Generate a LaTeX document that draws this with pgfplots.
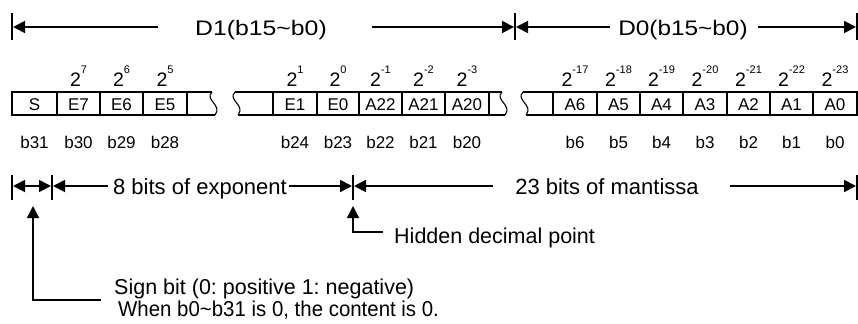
\documentclass[border=0pt]{standalone}
\usepackage{pgfplots}
\pgfplotsset{compat=1.18}
\usepackage{fontspec}
\setmainfont{Liberation Sans}
\usetikzlibrary{arrows.meta}
\frenchspacing
\newcommand\fs[1]{\fontsize{#1bp}{#1bp}\selectfont}
\newcommand\pw[1]{2\raisebox{12.5bp}{\fs{11}#1}}
\newcommand\sq[1]{\draw[line width=1.1bp,black] (axis cs:#1,92) .. controls (axis cs:#1-8,100) and (axis cs:#1+11,105) .. (axis cs:#1+3,115);}
\newcommand\cell[3]{%
  \node[anchor=base,inner sep=0] at (axis cs:#1,110) {\fs{17}#2};
  \node[anchor=base,inner sep=0] at (axis cs:#1,148) {\fs{17}#3};}
\newcommand\pow[2]{\node[anchor=base,inner sep=0] at (axis cs:#1,86) {\fs{19.5}\pw{#2}};}
\begin{document}
\begin{tikzpicture}[>={Triangle[length=12bp,width=12bp]}]
\begin{axis}[width=858bp,height=324bp,scale only axis,
  xmin=0,xmax=858,ymin=0,ymax=324,y dir=reverse,hide axis,clip=false]
\coordinate (TL) at (axis cs:0,0);
\coordinate (BR) at (axis cs:858,324);
% ---- top row
\addplot[line width=1.8bp,black] coordinates {(12,13) (12,40)};
\addplot[line width=1.8bp,black] coordinates {(515,13) (515,40)};
\addplot[line width=1.8bp,black] coordinates {(857,13) (857,40)};
\addplot[line width=1.8bp,black,->] coordinates {(158,27) (13,27)};
\addplot[line width=1.8bp,black,->] coordinates {(372,27) (514,27)};
\addplot[line width=1.8bp,black,->] coordinates {(610,27) (516,27)};
\addplot[line width=1.8bp,black,->] coordinates {(758,27) (856,27)};
\node[anchor=base] at (axis cs:261,35) {\fs{21}\scalebox{1.18}[1]{D1(b15\char`\~b0)}};
\node[anchor=base] at (axis cs:683,35) {\fs{21}\scalebox{1.16}[1]{D0(b15\char`\~b0)}};
% ---- boxes
\addplot[line width=1.1bp,black] coordinates {(212,92) (12,92) (12,115) (215,115)};
\addplot[line width=1.1bp,black] coordinates {(235,92) (502,92)};
\addplot[line width=1.1bp,black] coordinates {(238,115) (505,115)};
\addplot[line width=1.1bp,black] coordinates {(523,92) (857,92) (857,115) (526,115)};
\addplot[line width=1.1bp,black] coordinates {(57,92) (57,115)};
\addplot[line width=1.1bp,black] coordinates {(100,92) (100,115)};
\addplot[line width=1.1bp,black] coordinates {(143,92) (143,115)};
\addplot[line width=1.1bp,black] coordinates {(187,92) (187,115)};
\addplot[line width=1.1bp,black] coordinates {(273,92) (273,115)};
\addplot[line width=1.1bp,black] coordinates {(317,92) (317,115)};
\addplot[line width=1.1bp,black] coordinates {(359,92) (359,115)};
\addplot[line width=1.1bp,black] coordinates {(402,92) (402,115)};
\addplot[line width=1.1bp,black] coordinates {(445,92) (445,115)};
\addplot[line width=1.1bp,black] coordinates {(489,92) (489,115)};
\addplot[line width=1.1bp,black] coordinates {(553,92) (553,115)};
\addplot[line width=1.1bp,black] coordinates {(597,92) (597,115)};
\addplot[line width=1.1bp,black] coordinates {(640,92) (640,115)};
\addplot[line width=1.1bp,black] coordinates {(683,92) (683,115)};
\addplot[line width=1.1bp,black] coordinates {(727,92) (727,115)};
\addplot[line width=1.1bp,black] coordinates {(770,92) (770,115)};
\addplot[line width=1.1bp,black] coordinates {(813,92) (813,115)};
\sq{212}\sq{235}\sq{502}\sq{523}
% ---- cell labels
\cell{34.5}{S}{b31}\cell{78.5}{E7}{b30}\cell{121.5}{E6}{b29}\cell{165}{E5}{b28}
\cell{295}{E1}{b24}\cell{338}{E0}{b23}\cell{380.5}{A22}{b22}\cell{423.5}{A21}{b21}\cell{467}{A20}{b20}
\cell{575}{A6}{b6}\cell{618.5}{A5}{b5}\cell{661.5}{A4}{b4}\cell{705}{A3}{b3}\cell{748.5}{A2}{b2}\cell{791.5}{A1}{b1}\cell{835}{A0}{b0}
\pow{78.5}{7}\pow{121.5}{6}\pow{165}{5}
\pow{295}{1}\pow{338}{0}\pow{380.5}{-1}\pow{423.5}{-2}\pow{467}{-3}
\pow{575}{-17}\pow{618.5}{-18}\pow{661.5}{-19}\pow{705}{-20}\pow{748.5}{-21}\pow{791.5}{-22}\pow{835}{-23}
% ---- bottom row
\addplot[line width=1.8bp,black] coordinates {(12,175) (12,200)};
\addplot[line width=1.8bp,black] coordinates {(52,175) (52,200)};
\addplot[line width=1.8bp,black] coordinates {(353,175) (353,200)};
\addplot[line width=1.8bp,black] coordinates {(857,175) (857,200)};
\addplot[line width=1.8bp,black,<->] coordinates {(13,186) (51,186)};
\addplot[line width=1.8bp,black,->] coordinates {(108,186) (53,186)};
\addplot[line width=1.8bp,black,->] coordinates {(289,186) (352,186)};
\addplot[line width=1.8bp,black,->] coordinates {(493,186) (354,186)};
\addplot[line width=1.8bp,black,->] coordinates {(730,186) (856,186)};
\node[anchor=base,inner sep=0] at (axis cs:200,194) {\fs{22}8 bits of exponent};
\node[anchor=base,inner sep=0] at (axis cs:607,194) {\fs{22}23 bits of mantissa};
% ---- pointers
\addplot[line width=1.8bp,black,->] coordinates {(101,300) (33,300) (33,206)};
\addplot[line width=1.8bp,black,->] coordinates {(383,232) (353,232) (353,206)};
\node[anchor=base west,inner sep=0] at (axis cs:394,243) {\fs{21.5}Hidden decimal point};
\node[anchor=base west,inner sep=0] at (axis cs:114,294) {\fs{21.5}Sign bit (0: positive 1: negative)};
\node[anchor=base west,inner sep=0] at (axis cs:118,316) {\fs{21.5}\scalebox{0.95}[1]{When b0\char`\~b31 is 0, the content is 0.}};
\end{axis}
\pgfresetboundingbox
\path[use as bounding box] (TL) rectangle (BR);
\end{tikzpicture}
\end{document}
